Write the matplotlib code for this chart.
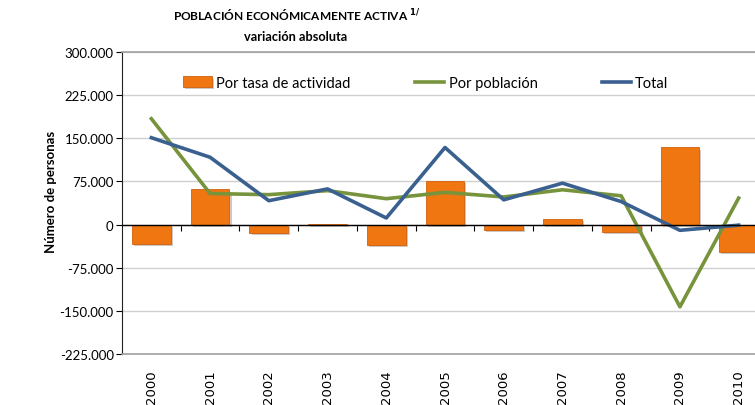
import matplotlib.pyplot as plt
import matplotlib.patheffects as pe
import numpy as np

plt.rcParams['font.family'] = ['Lato', 'DejaVu Sans']

years = ['2000', '2001', '2002', '2003', '2004', '2005', '2006', '2007', '2008', '2009', '2010']
tasa_actividad = [-33000, 61000, -14000, 1500, -36000, 76000, -9000, 10500, -12500, 134000, -48000]
por_poblacion = [184000, 54000, 52000, 59000, 45000, 56000, 48000, 60500, 50000, -143000, 46000]
total = [151000, 117000, 41500, 62000, 11500, 134000, 43000, 72000, 40000, -10000, -1000]

x = np.arange(len(years))

fig = plt.figure(figsize=(7.55, 4.06), dpi=100)
ax = fig.add_axes([122 / 755, 51 / 406, 646 / 755, 302 / 406])

bars = ax.bar(x, tasa_actividad, width=0.66, color='#F07612', edgecolor='#D0600C', linewidth=0.6,
              label='Por tasa de actividad', zorder=2,
              path_effects=[pe.SimplePatchShadow(offset=(1.5, -1.5), alpha=0.25), pe.Normal()])
l1, = ax.plot(x, por_poblacion, color='#77933C', lw=2.6, label='Por población', zorder=3)
l2, = ax.plot(x, total, color='#3A6090', lw=2.6, label='Total', zorder=4)

ax.set_xlim(-0.5, len(years) - 0.5)
ax.set_ylim(-225000, 300000)
yt = np.arange(-225000, 300001, 75000)
ax.set_yticks(yt)
ax.set_yticklabels([f'{v:,}'.replace(',', '.') for v in yt], fontsize=9.5)
ax.grid(axis='y', color='#D0D0D0', lw=1, zorder=0)
ax.set_axisbelow(True)

ax.set_xticks(x)
ax.set_xticklabels(years, rotation=90, fontsize=9.5, family='DejaVu Sans')
ax.tick_params(axis='x', length=0, pad=11)
ax.tick_params(axis='y', length=4, width=0.8, pad=2)

for s in ['top', 'bottom']:
    ax.spines[s].set_color('#A0A0A0')
    ax.spines[s].set_linewidth(1.2)
ax.spines['right'].set_visible(False)
ax.spines['left'].set_color('#202020')

# zero axis with tick marks between categories
ax.axhline(0, color='black', lw=1, zorder=5)
sec = ax.secondary_xaxis(225 / 525)
sec.set_xticks(x[:-1] + 0.5)
sec.set_xticklabels([])
sec.tick_params(length=4, width=0.8, direction='out')
sec.spines['bottom'].set_visible(False)

ax.legend([bars, l1, l2], ['Por tasa de actividad', 'Por población', 'Total'],
          loc='upper left', bbox_to_anchor=(0.074, 0.965), ncol=3, frameon=False, fontsize=10.5,
          handlelength=2.0, handletextpad=0.3, columnspacing=4.4)

fig.text(0.393, 0.962, r'POBLACIÓN ECONÓMICAMENTE ACTIVA $^{\mathbf{1/}}$', ha='center', va='center',
         fontsize=8.6, fontweight='bold')
fig.text(0.392, 0.908, 'variación absoluta', ha='center', va='center', fontsize=9.2, fontweight='bold')
fig.text(0.067, 0.527, 'Número de personas', rotation=90, ha='center', va='center',
         fontsize=9.5, fontweight='bold')

fig.savefig('out.png', dpi=100)
